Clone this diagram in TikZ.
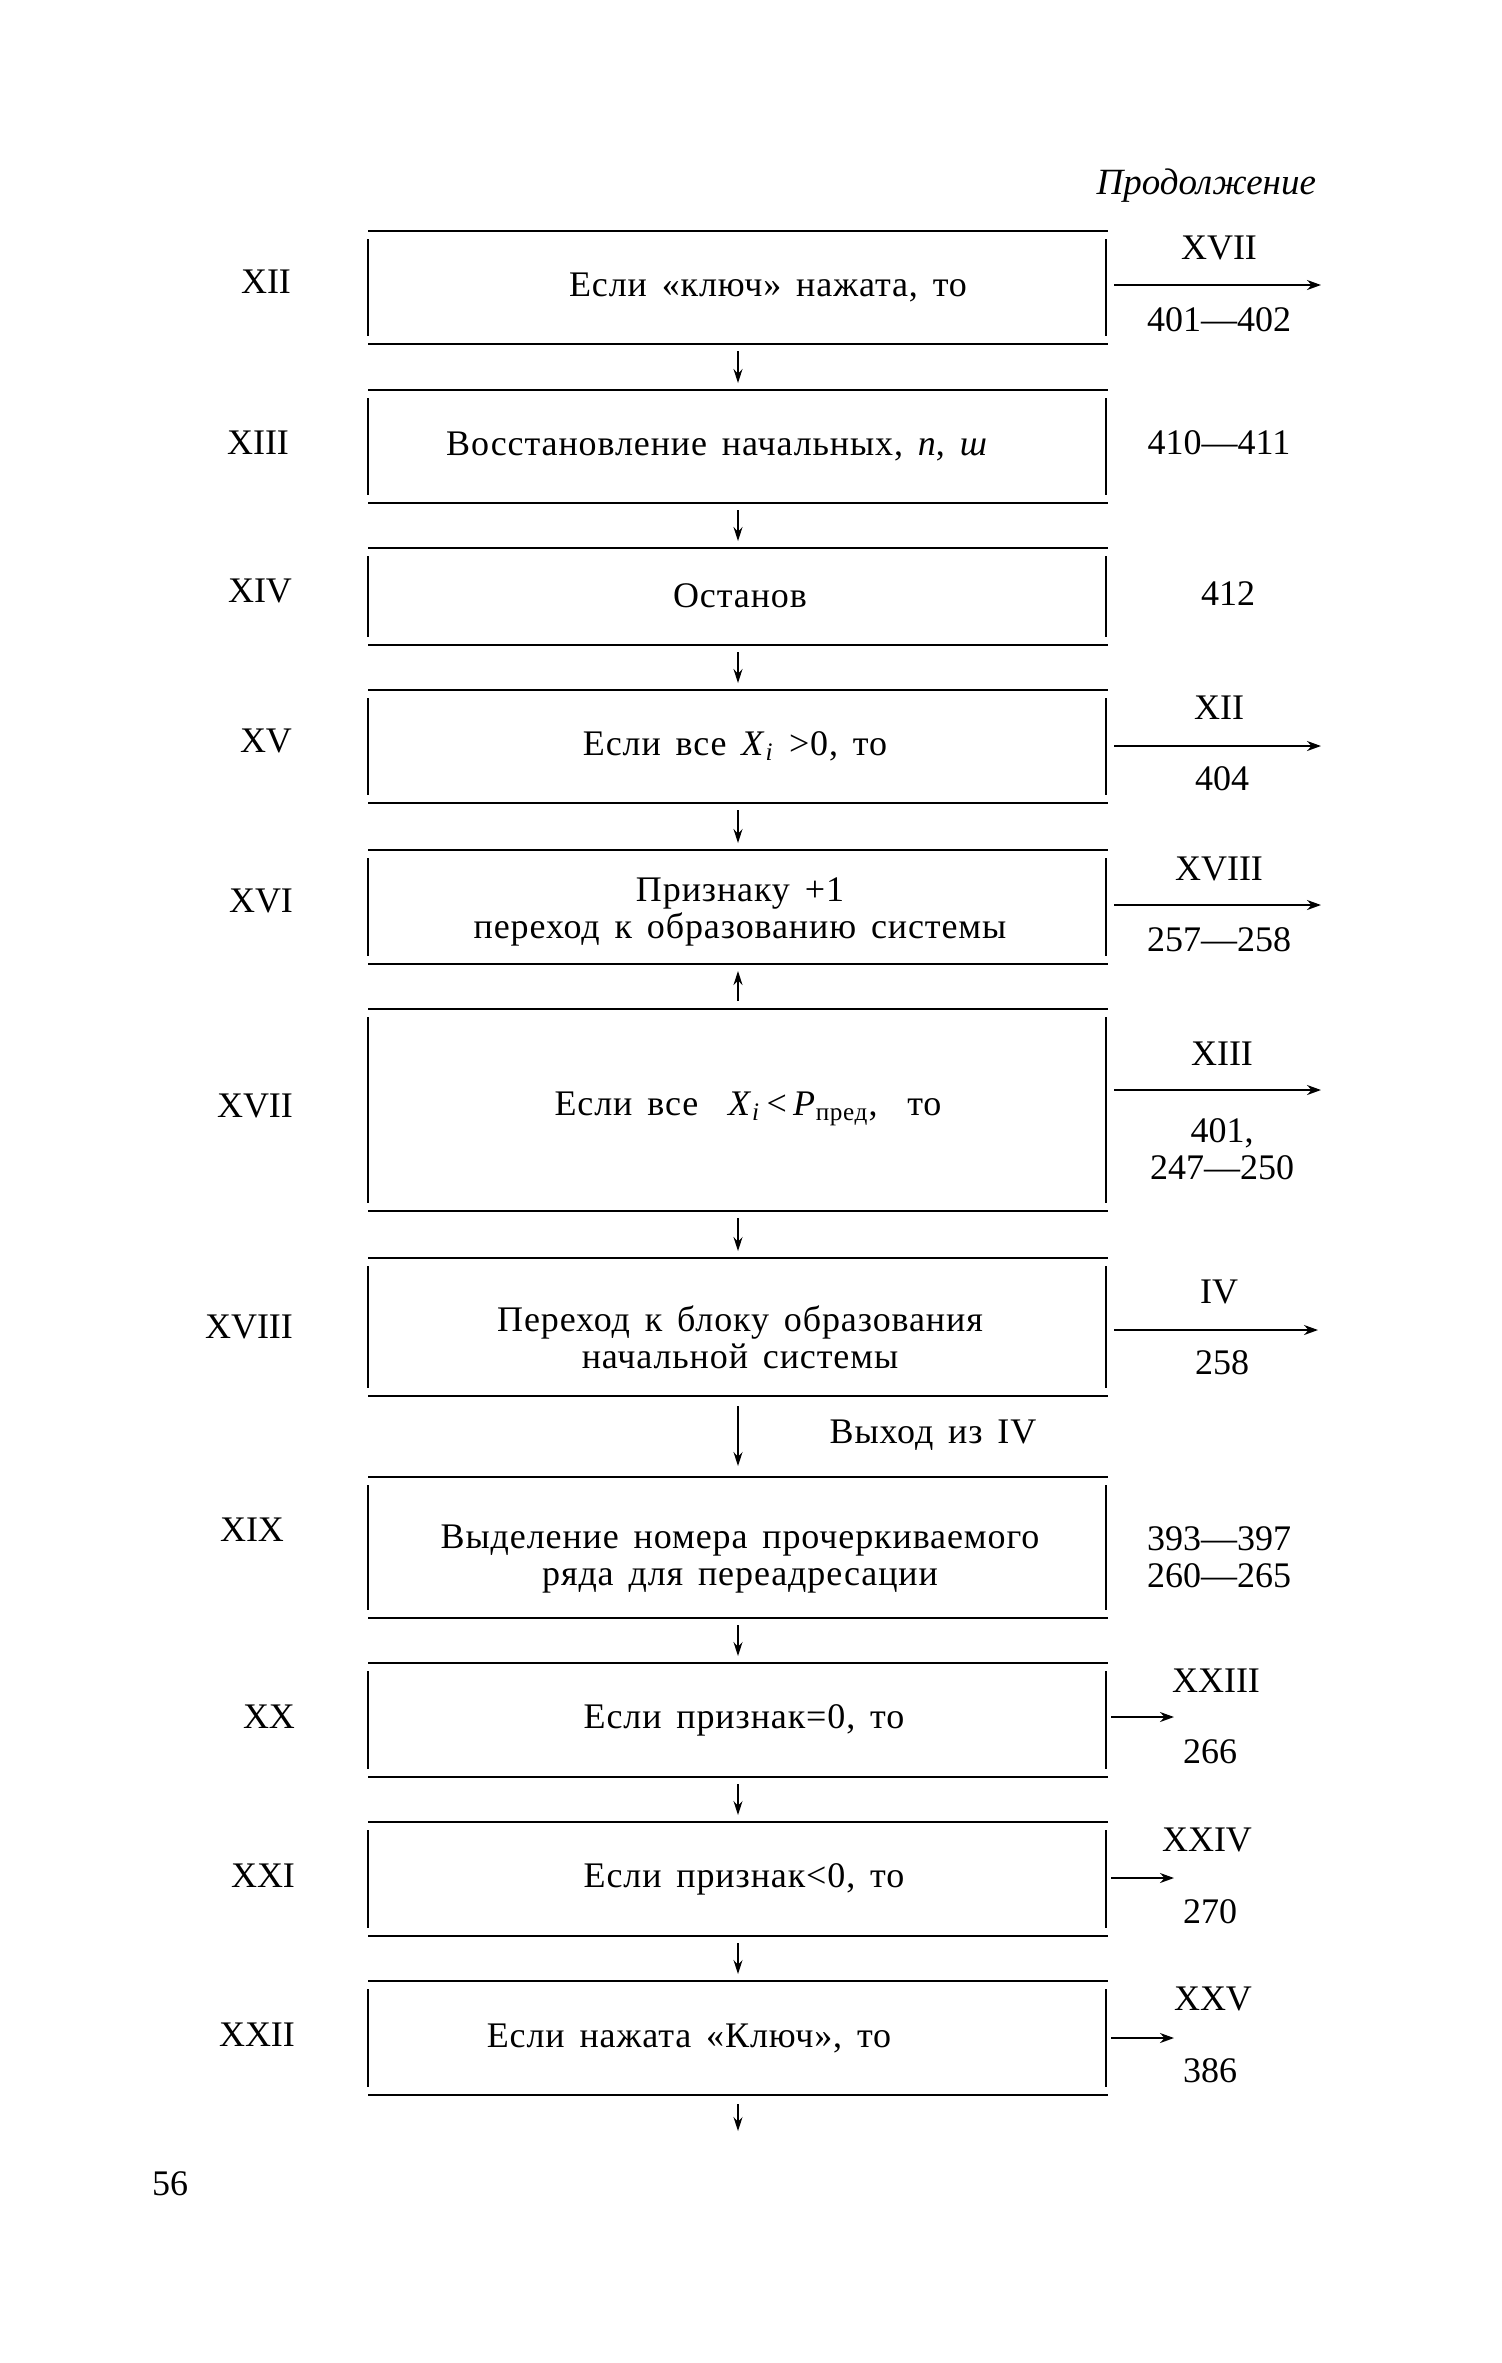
\documentclass[tikz,border=0pt]{standalone}
\usepackage{fontspec}
\setmainfont{Liberation Serif}
\newfontfamily\spaced[LetterSpace=2.5,WordSpace=1.5]{Liberation Serif}
\usetikzlibrary{arrows.meta}
\newcommand\mkblk[3]{%
  \node[blk, minimum height={(#3-#2)*0.5pt}] (#1) at (738,{(#2+#3)/2}) {};
  \draw[hline] (#1.north west) -- (#1.north east);
  \draw[hline] (#1.south west) -- (#1.south east);
  \draw[vline] ([yshift=-4pt]#1.north west) -- ([yshift=4pt]#1.south west);
  \draw[vline] ([xshift=-1pt,yshift=-4pt]#1.north east) -- ([xshift=-1pt,yshift=4pt]#1.south east);
}
\begin{document}
\begin{tikzpicture}[x=0.5pt,y=-0.5pt,
  every node/.style={font=\fontsize{18}{18.5}\selectfont, inner sep=0pt, outer sep=0pt, align=center, yshift=-1.5pt},
  blk/.style={minimum width=370pt, draw=none, yshift=0pt},
  bt/.style={font=\fontsize{18}{18.5}\selectfont\spaced},
  two/.style={yshift=-3.5pt},
  hline/.style={line width=1.1pt},
  vline/.style={line width=0.7pt},
  darr/.style={line width=0.6pt,-{Stealth[length=7pt,width=4.5pt]}},
  rarr/.style={line width=1pt,-{Stealth[length=7pt,width=5pt]}},
]
\useasboundingbox (0,0) rectangle (1501,2363);

\node[anchor=east, font=\fontsize{18.5}{19}\selectfont\itshape] (cont) at (1316,183) {Продолжение};

% boxes
\mkblk{b1}{228}{341}
\mkblk{b2}{387}{500}
\mkblk{b3}{545}{642}
\mkblk{b4}{687}{800}
\mkblk{b5}{847}{961}
\mkblk{b6}{1006}{1208}
\mkblk{b7}{1255}{1393}
\mkblk{b8}{1474}{1615}
\mkblk{b9}{1660}{1774}
\mkblk{b10}{1819}{1933}
\mkblk{b11}{1978}{2092}

% box texts
\node[bt] (t1) at (768,284) {Если «ключ» нажата, то};
\node[bt] (t2) at (717,443) {Восстановление начальных, \textit{n}, \textit{ш}};
\node[bt] (t3) at (740,593) {Останов};
\node[bt] (t4) at (735,743) {Если все \textit{X}\textsubscript{\textit{i}} >0, то};
\node[bt,two] (t5) at (740,902) {Признаку +1\\переход к образованию системы};
\node[bt] (t6) at (748,1106) {Если все \ \textit{X}\textsubscript{\textit{i}}\,<\,\textit{P}\textsubscript{пред}, \ то};
\node[bt,two] (t7) at (740,1327) {Переход к блоку образования\\начальной системы};
\node[bt,two] (t8) at (740,1549) {Выделение номера прочеркиваемого\\ряда для переадресации};
\node[bt] (t9) at (744,1717) {Если признак=0, то};
\node[bt] (t10) at (744,1876) {Если признак<0, то};
\node[bt] (t11) at (689,2035) {Если нажата «Ключ», то};

% left labels
\node (l1) at (266,279) {XII};
\node (l2) at (258,440) {XIII};
\node (l3) at (260,588) {XIV};
\node (l4) at (266,738) {XV};
\node (l5) at (261,898) {XVI};
\node (l6) at (255,1103) {XVII};
\node (l7) at (249,1324) {XVIII};
\node (l8) at (252,1527) {XIX};
\node (l9) at (269,1714) {XX};
\node (l10) at (263,1873) {XXI};
\node (l11) at (257,2032) {XXII};

% right labels
\node (r1a) at (1219,245) {XVII};
\node (r1b) at (1219,317) {401—402};
\node (r2) at (1219,440) {410—411};
\node (r3) at (1228,591) {412};
\node (r4a) at (1219,705) {XII};
\node (r4b) at (1222,776) {404};
\node (r5a) at (1219,866) {XVIII};
\node (r5b) at (1219,937) {257—258};
\node (r6a) at (1222,1051) {XIII};
\node[two] (r6b) at (1222,1139) {401,\\247—250};
\node (r7a) at (1219,1289) {IV};
\node (r7b) at (1222,1360) {258};
\node[two] (r8) at (1219,1547) {393—397\\260—265};
\node (r9a) at (1216,1678) {XXIII};
\node (r9b) at (1210,1749) {266};
\node (r10a) at (1207,1837) {XXIV};
\node (r10b) at (1210,1909) {270};
\node (r11a) at (1213,1996) {XXV};
\node (r11b) at (1210,2068) {386};

% right arrows
\coordinate (a1s) at (1114,282);  \coordinate (a1e) at (1321,282);
\coordinate (a4s) at (1114,743);  \coordinate (a4e) at (1321,743);
\coordinate (a5s) at (1114,902);  \coordinate (a5e) at (1321,902);
\coordinate (a6s) at (1114,1087); \coordinate (a6e) at (1321,1087);
\coordinate (a7s) at (1114,1327); \coordinate (a7e) at (1318,1327);
\coordinate (a9s) at (1111,1714); \coordinate (a9e) at (1174,1714);
\coordinate (a10s) at (1111,1875); \coordinate (a10e) at (1174,1875);
\coordinate (a11s) at (1111,2035); \coordinate (a11e) at (1174,2035);
\foreach \i in {1,4,5,6,7,9,10,11} \draw[rarr] (a\i s) -- (a\i e);

% down arrows
\draw[darr] ([yshift=-3.5pt]b1.south) -- ([yshift=3.5pt]b2.north);
\draw[darr] ([yshift=-3.5pt]b2.south) -- ([yshift=3.5pt]b3.north);
\draw[darr] ([yshift=-3.5pt]b3.south) -- ([yshift=3.5pt]b4.north);
\draw[darr] ([yshift=-3.5pt]b4.south) -- ([yshift=3.5pt]b5.north);
\draw[darr] ([yshift=4pt]b6.north) -- ([yshift=-3.5pt]b5.south);
\draw[darr] ([yshift=-3.5pt]b6.south) -- ([yshift=3.5pt]b7.north);
\draw[darr] ([yshift=-5pt]b7.south) -- ([yshift=5.5pt]b8.north);
\draw[darr] ([yshift=-3.5pt]b8.south) -- ([yshift=3.5pt]b9.north);
\draw[darr] ([yshift=-3.5pt]b9.south) -- ([yshift=3.5pt]b10.north);
\draw[darr] ([yshift=-3.5pt]b10.south) -- ([yshift=3.5pt]b11.north);
\coordinate (endc) at (738,2128);
\draw[darr] ([yshift=-4.5pt]b11.south) -- (endc);

\node[bt] (exit) at (933,1432) {Выход из IV};
\node (page) at (170,2181) {56};
\end{tikzpicture}
\end{document}
